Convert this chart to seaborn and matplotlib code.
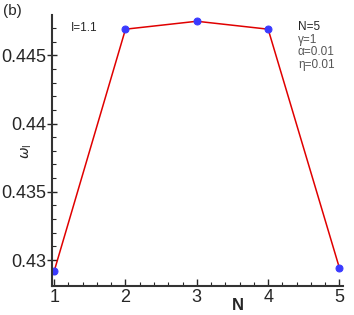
import numpy as np
import pandas as pd
import seaborn as sns
import matplotlib
matplotlib.use('Agg')
import matplotlib.pyplot as plt
from matplotlib.ticker import MultipleLocator

# data
n_values = [1, 2, 3, 4, 5]
omega = [0.42919, 0.44691, 0.44749, 0.44691, 0.42941]

df = pd.DataFrame({'N': n_values, 'omega': omega})

sns.set_style('ticks')
plt.rcParams['font.family'] = ['Liberation Sans', 'DejaVu Sans']

fig = plt.figure(figsize=(3.54, 3.15), dpi=100)
ax = fig.add_axes([0.147, 0.092, 0.822, 0.86])

sns.lineplot(data=df, x='N', y='omega', ax=ax, color='#e00000', linewidth=1.1,
             marker='o', markersize=5, markerfacecolor='#3a3aff',
             markeredgecolor='#3a3aff')

ax.set_xlim(0.97, 5.05)
ax.set_ylim(0.4281, 0.44794)
ax.xaxis.set_major_locator(MultipleLocator(1))
ax.xaxis.set_minor_locator(MultipleLocator(0.2))
ax.yaxis.set_minor_locator(MultipleLocator(0.001))
ax.set_yticks([0.43, 0.435, 0.44, 0.445])
ax.set_yticklabels(['0.43', '0.435', '0.44', '0.445'])

for s in ['top', 'right']:
    ax.spines[s].set_visible(False)
for s in ['left', 'bottom']:
    ax.spines[s].set_linewidth(1.5)
    ax.spines[s].set_color('#333333')

ax.tick_params(axis='y', which='major', direction='inout', length=7, width=1, labelsize=13, pad=1)
ax.tick_params(axis='x', which='major', direction='in', length=5, width=1, labelsize=13, pad=2)
ax.tick_params(which='minor', direction='in', length=3, width=0.8)

ax.set_xlabel('')
ax.set_ylabel('')
fig.text(0.672, 0.029, 'N', fontsize=12, fontweight='bold', ha='center', va='center')
fig.text(0.075, 0.52, r'$\omega_\mathregular{I}$', fontsize=10, rotation=90,
         ha='center', va='center')

fig.text(0.008, 0.988, '(b)', fontsize=11, va='top')
ax.text(0.065, 0.975, 'I=1.1', transform=ax.transAxes, fontsize=8.5, va='top')
ax.text(0.845, 0.945, 'N=5', transform=ax.transAxes, fontsize=8.5, va='baseline')
ax.text(0.845, 0.897, 'γ=1', transform=ax.transAxes, fontsize=8.5, va='baseline', color='#555555')
ax.text(0.845, 0.851, 'α=0.01', transform=ax.transAxes, fontsize=8.5, va='baseline', color='#555555')
ax.text(0.845, 0.806, 'η=0.01', transform=ax.transAxes, fontsize=8.5, va='baseline', color='#555555')

fig.savefig('out.png', dpi=100)
